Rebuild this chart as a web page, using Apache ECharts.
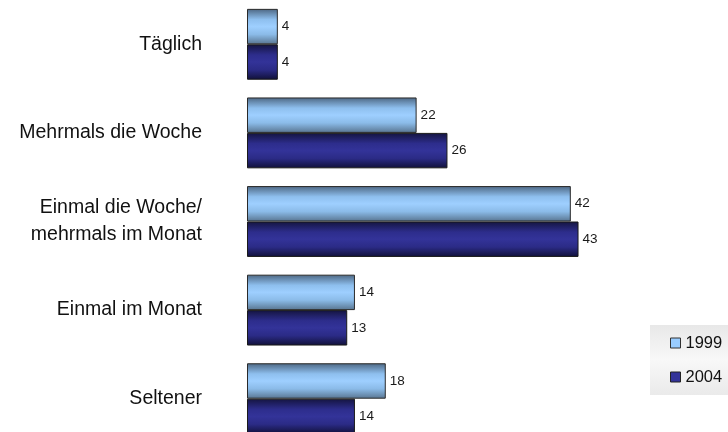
<!DOCTYPE html>
<html>
<head>
<meta charset="utf-8">
<script src="https://cdn.jsdelivr.net/npm/echarts@6/dist/echarts.min.js"></script>
<style>
html,body{margin:0;padding:0;background:#fff;}
#chart{width:728px;height:432px;}
</style>
</head>
<body>
<div id="chart"></div>
<script>
var categories = ['Täglich', 'Mehrmals die Woche', 'Einmal die Woche/\nmehrmals im Monat', 'Einmal im Monat', 'Seltener'];
var seriesNames = ['1999', '2004'];
var values1999 = [4, 22, 42, 14, 18];
var values2004 = [4, 26, 43, 13, 14];

var chart = echarts.init(document.getElementById('chart'), null, {renderer: 'canvas'});
var FONT = '"Liberation Sans", Arial, sans-serif';

function grad(stops) {
  return new echarts.graphic.LinearGradient(0, 0, 0, 1, stops);
}
var lightGrad = grad([
  {offset: 0, color: '#4c6682'},
  {offset: 0.3, color: '#8ebfee'},
  {offset: 0.5, color: '#9ecfff'},
  {offset: 0.72, color: '#8bbbe8'},
  {offset: 1, color: '#58748f'}
]);
var darkGrad = grad([
  {offset: 0, color: '#14143f'},
  {offset: 0.3, color: '#2d2d8c'},
  {offset: 0.5, color: '#333399'},
  {offset: 0.72, color: '#2b2b86'},
  {offset: 1, color: '#101038'}
]);

var labelStyle = {
  show: true,
  position: 'right',
  distance: 4,
  fontFamily: FONT,
  fontSize: 13.5,
  color: '#1a1a1a'
};

chart.setOption({
  animation: false,
  backgroundColor: '#ffffff',
  graphic: [{
    type: 'rect',
    shape: {x: 650, y: 325, width: 78, height: 70},
    style: {
      fill: new echarts.graphic.LinearGradient(0, 0, 0, 1, [
        {offset: 0, color: '#e8e8e8'},
        {offset: 0.5, color: '#f8f8f8'},
        {offset: 1, color: '#eaeaea'}
      ])
    },
    z: -1
  }],
  legend: {
    orient: 'vertical',
    left: 670,
    top: 333,
    padding: 0,
    itemWidth: 10,
    itemHeight: 10,
    itemGap: 14,
    icon: 'rect',
    textStyle: {fontFamily: FONT, fontSize: 16.5, color: '#111', lineHeight: 20},
    data: [
      {name: seriesNames[0], itemStyle: {color: '#99ccff', borderColor: '#333', borderWidth: 1}},
      {name: seriesNames[1], itemStyle: {color: '#333399', borderColor: '#222', borderWidth: 1}}
    ]
  },
  grid: {left: 247, top: 0, width: 385.5, height: 443, containLabel: false, outerBoundsMode: 'none'},
  xAxis: {type: 'value', min: 0, max: 50, show: false},
  yAxis: {
    type: 'category',
    inverse: true,
    data: categories,
    axisLine: {show: false},
    axisTick: {show: false},
    splitLine: {show: false},
    axisLabel: {
      margin: 45,
      fontFamily: FONT,
      fontSize: 19.5,
      lineHeight: 27,
      color: '#111',
      align: 'right'
    }
  },
  series: [
    {
      name: seriesNames[0],
      type: 'bar',
      data: values1999,
      barGap: '0%',
      barCategoryGap: '20%',
      itemStyle: {color: lightGrad, borderColor: '#2a2a2a', borderWidth: 1},
      label: labelStyle
    },
    {
      name: seriesNames[1],
      type: 'bar',
      data: values2004,
      barGap: '0%',
      barCategoryGap: '20%',
      itemStyle: {color: darkGrad, borderColor: '#1a1a1a', borderWidth: 1},
      label: labelStyle
    }
  ]
});
</script>
</body>
</html>
